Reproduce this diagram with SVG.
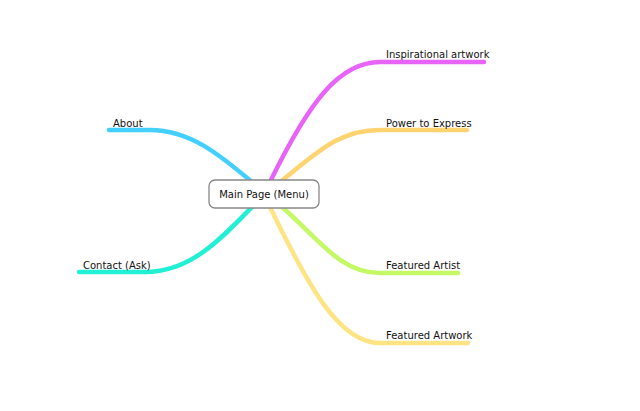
<svg xmlns="http://www.w3.org/2000/svg" width="640" height="411" viewBox="0 0 640 411">
<style>
.c{fill:none;stroke-width:4.5;stroke-linecap:round}
text{font-family:"DejaVu Sans",sans-serif;font-size:10px;fill:#111}
</style>
<rect width="640" height="411" fill="#fff"/>
<g id="connectors">
<path class="c" stroke="#e864f8" d="M270,182 C310,100 340,62 380,62 L484,62"/>
<path class="c" stroke="#ffd470" d="M280,182 C320,150 340,130 380,130 L467,130"/>
<path class="c" stroke="#44d0ff" d="M252,182 C220,155 190,130 150,130 L109,130"/>
<path class="c" stroke="#22f0d4" d="M252,207 C220,240 190,272 145,272 L79,272"/>
<path class="c" stroke="#c4f864" d="M282,207 C320,240 340,273 380,273 L458,273"/>
<path class="c" stroke="#ffe484" d="M270,207 C310,290 340,343 380,343 L468,343"/>
</g>
<g id="main"><rect x="209" y="180" width="110" height="28" rx="6" fill="#fff" stroke="#888" stroke-width="1.3"/><text x="264" y="198" text-anchor="middle">Main Page (Menu)</text></g>
<g id="n1"><text x="386" y="58">Inspirational artwork</text></g>
<g id="n2"><text x="386" y="127">Power to Express</text></g>
<g id="n3"><text x="113" y="127">About</text></g>
<g id="n4"><text x="83" y="269">Contact (Ask)</text></g>
<g id="n5"><text x="386" y="269">Featured Artist</text></g>
<g id="n6"><text x="386" y="339">Featured Artwork</text></g>
</svg>
